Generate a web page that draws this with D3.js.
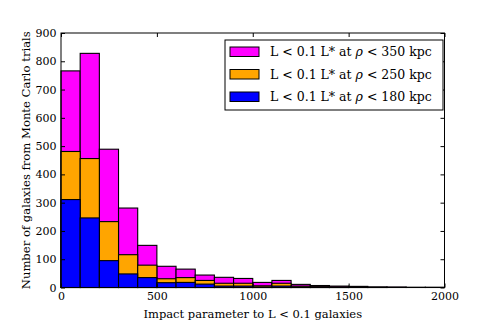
<!DOCTYPE html>
<html>
<head>
<meta charset="utf-8">
<script src="https://cdn.jsdelivr.net/npm/d3@7"></script>
<style>
  body { margin: 0; background: #fff; }
  text { font-family: "DejaVu Serif", serif; }
</style>
</head>
<body>
<div id="container"></div>
<script>
// bins of 100 kpc from 0 to 2000
const binEdges = d3.range(0, 2000, 100);
// number of galaxies per bin (not stacked, each series is a separate histogram)
const within350 = [766, 828, 489, 281, 149, 75, 65, 44, 36, 32, 18, 25, 11, 7, 5, 4, 2, 2, 1, 1];
const within250 = [481, 456, 233, 116, 79, 31, 35, 25, 15, 15, 6, 15, 5, 3, 2, 1, 1, 0, 0, 0];
const within180 = [311, 246, 95, 48, 35, 17, 18, 12, 5, 5, 2, 5, 2, 1, 1, 0, 0, 0, 0, 0];
const xTicks = [0, 500, 1000, 1500, 2000];
const yTicks = d3.range(0, 901, 100);
const seriesNames = ["350", "250", "180"];

const width = 494, height = 330;
const plotLeft = 61, plotRight = 444.5, plotTop = 33, plotBottom = 287.5;
const fontPolice = "DejaVu Serif";
const colors = ["#ff00ff", "#ffa500", "#0000ff"];

const svg = d3.select("#container").append("svg")
  .attr("width", width)
  .attr("height", height);

const x = d3.scaleLinear().domain([0, 2000]).range([plotLeft, plotRight]);
const y = d3.scaleLinear().domain([0, 900]).range([plotBottom, plotTop]);

/* histogrammes, le plus grand dessous */
const series = [within350, within250, within180];
series.forEach(function(values, i) {
  svg.append("g").selectAll("rect")
    .data(values)
    .enter().append("rect")
      .attr("x", function(d, j) { return x(binEdges[j]); })
      .attr("y", function(d) { return y(d); })
      .attr("width", function(d, j) { return x(binEdges[j] + 100) - x(binEdges[j]); })
      .attr("height", function(d) { return y(0) - y(d); })
      .attr("fill", colors[i])
      .attr("stroke", "#000")
      .attr("stroke-width", 1.1);
});

/* cadre */
svg.append("rect")
  .attr("x", plotLeft).attr("y", plotTop)
  .attr("width", plotRight - plotLeft).attr("height", plotBottom - plotTop)
  .attr("fill", "none").attr("stroke", "#000").attr("stroke-width", 1);

/* axes, ticks inside */
const tickLen = 4;
const fmt = d3.format("d");
const xBottom = svg.append("g")
  .attr("transform", "translate(0," + plotBottom + ")")
  .call(d3.axisBottom(x).tickValues(xTicks).tickFormat(fmt).tickSizeInner(-tickLen).tickSizeOuter(0).tickPadding(5));
const xTop = svg.append("g")
  .attr("transform", "translate(0," + plotTop + ")")
  .call(d3.axisTop(x).tickValues(xTicks).tickSizeInner(-tickLen).tickSizeOuter(0).tickFormat(""));
const yLeft = svg.append("g")
  .attr("transform", "translate(" + plotLeft + ",0)")
  .call(d3.axisLeft(y).tickValues(yTicks).tickFormat(fmt).tickSizeInner(-tickLen).tickSizeOuter(0).tickPadding(4.5));
const yRight = svg.append("g")
  .attr("transform", "translate(" + plotRight + ",0)")
  .call(d3.axisRight(y).tickValues(yTicks).tickSizeInner(-tickLen).tickSizeOuter(0).tickFormat(""));

[xBottom, xTop, yLeft, yRight].forEach(function(g) {
  g.select(".domain").remove();
  g.selectAll("text").style("font-family", fontPolice).style("font-size", "11px").attr("fill", "#000");
  g.selectAll("line").attr("stroke", "#000");
});

/* labels */
svg.append("text")
  .attr("x", (plotLeft + plotRight) / 2)
  .attr("y", 318)
  .style("text-anchor", "middle")
  .style("font-size", "11.5px")
  .text("Impact parameter to L < 0.1 galaxies");

svg.append("text")
  .attr("transform", "translate(29.5," + (plotTop + plotBottom) / 2 + ") rotate(-90)")
  .style("text-anchor", "middle")
  .style("font-size", "11.6px")
  .text("Number of galaxies from Monte Carlo trials");

/* legende */
const legend = svg.append("g");
legend.append("rect")
  .attr("x", 225).attr("y", 40)
  .attr("width", 218).attr("height", 70)
  .attr("fill", "#fff").attr("stroke", "#000").attr("stroke-width", 1);

seriesNames.forEach(function(name, i) {
  const cy = 51.5 + i * 22.5;
  legend.append("rect")
    .attr("x", 230).attr("y", cy - 4.5)
    .attr("width", 29).attr("height", 9.5)
    .attr("fill", colors[i]).attr("stroke", "#000").attr("stroke-width", 1);
  const t = legend.append("text")
    .attr("x", 270).attr("y", cy + 4.5)
    .style("font-size", "12.5px");
  t.append("tspan").text("L < 0.1 L* at ");
  t.append("tspan").style("font-style", "italic").text("ρ");
  t.append("tspan").text(" < " + name + " kpc");
});
</script>
</body>
</html>
